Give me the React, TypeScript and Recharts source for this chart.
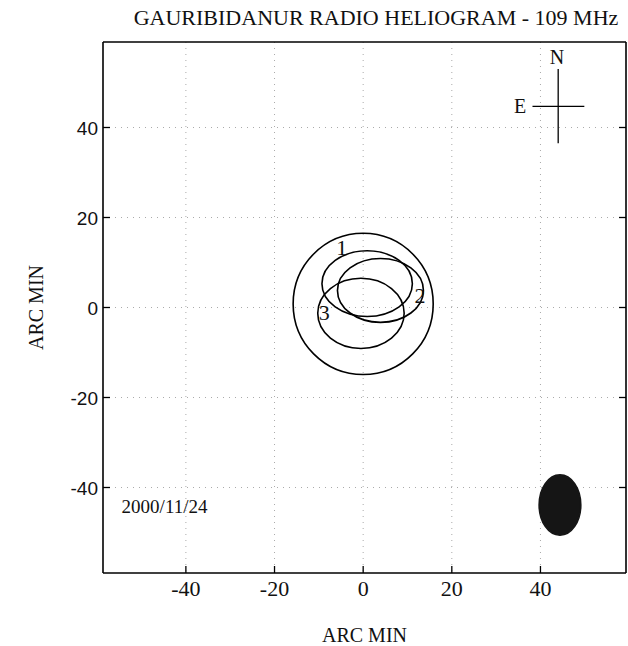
import React from "react";
import {
  ComposedChart,
  XAxis,
  YAxis,
  CartesianGrid,
  ReferenceArea,
  ReferenceLine,
  ReferenceDot,
  Scatter,
} from "recharts";

// radio contours, the optical disc and the beam, as ellipses (arc min)
const ovalNames = ["disc", "1", "2", "3", "beam"];
const ovalCx = [0, 0.9, 3.9, -0.5, 44.4];
const ovalCy = [0.8, 5.3, 3.8, -1.3, -43.9];
const ovalRx = [15.8, 10.2, 9.7, 9.75, 4.7];
const ovalRy = [15.7, 7.3, 7.1, 7.8, 6.7];

// contour numbers
const contourLabels = ["1", "2", "3"];
const contourLabelX = [-4.85, 12.8, -8.8];
const contourLabelY = [11.7, 0.9, -2.8];

const axisTicks = [-40, -20, 0, 20, 40];
const obsDate = "2000/11/24";

const SERIF = "'Liberation Serif', 'Times New Roman', serif";
const SANS = "'Liberation Sans', Arial, sans-serif";
const TICK_GAP = 5;
const TICK_LEN = 7;

const ovals = ovalNames.map((name, i) => ({
  name,
  x: ovalCx[i],
  y: ovalCy[i],
  rx: ovalRx[i],
  ry: ovalRy[i],
}));

const BottomTick = (p: any) => (
  <g>
    <line x1={p.x} x2={p.x} y1={p.y - TICK_GAP} y2={p.y - TICK_GAP - TICK_LEN} stroke="#000" strokeWidth={1.3} />
    <text x={p.x} y={p.y + 18} textAnchor="middle" fontFamily={SERIF} fontSize={22} fill="#111">
      {p.payload.value}
    </text>
  </g>
);

const TopTick = (p: any) => (
  <line x1={p.x} x2={p.x} y1={p.y + TICK_GAP} y2={p.y + TICK_GAP + TICK_LEN} stroke="#000" strokeWidth={1.3} />
);

const LeftTick = (p: any) => (
  <g>
    <line x1={p.x + TICK_GAP} x2={p.x + TICK_GAP + TICK_LEN} y1={p.y} y2={p.y} stroke="#000" strokeWidth={1.3} />
    <text x={p.x} y={p.y + 7} textAnchor="end" fontFamily={SANS} fontSize={19} fill="#111">
      {p.payload.value}
    </text>
  </g>
);

const RightTick = (p: any) => (
  <line x1={p.x - TICK_GAP} x2={p.x - TICK_GAP - TICK_LEN} y1={p.y} y2={p.y} stroke="#000" strokeWidth={1.3} />
);

const ovalShape = (filled: boolean) => (p: any) => (
  <ellipse
    cx={p.x + p.width / 2}
    cy={p.y + p.height / 2}
    rx={p.width / 2}
    ry={Math.abs(p.height) / 2}
    fill={filled ? "#151515" : "none"}
    stroke={filled ? "#151515" : "#000"}
    strokeWidth={1.6}
  />
);

const textShape = (value: string, size: number, anchor: string = "middle") => (p: any) => (
  <text x={p.cx} y={p.cy} textAnchor={anchor} fontFamily={SERIF} fontSize={size} fill="#111">
    {value}
  </text>
);

export default function App() {
  return (
    <div style={{ position: "absolute", left: 0, top: 0, width: 628, height: 646, background: "#fff" }}>
      <div
        style={{
          position: "absolute",
          left: 0,
          top: 5,
          width: 752,
          textAlign: "center",
          fontFamily: SERIF,
          fontSize: 22,
          color: "#111",
        }}
      >
        GAURIBIDANUR RADIO HELIOGRAM - 109 MHz
      </div>
      <ComposedChart width={628} height={646} margin={{ top: 41, right: 0, bottom: 0, left: 0 }}>
        <CartesianGrid
          xAxisId="b"
          yAxisId="l"
          horizontalValues={axisTicks}
          verticalValues={axisTicks}
          stroke="#aaa"
          strokeDasharray="1 5"
        />
        <XAxis
          xAxisId="b"
          type="number"
          dataKey="x"
          domain={[-58.7, 59.3]}
          allowDataOverflow
          ticks={axisTicks}
          tickSize={0}
          tickMargin={TICK_GAP}
          tick={<BottomTick />}
          height={73}
          axisLine={{ stroke: "#000", strokeWidth: 1.6 }}
          label={{ value: "ARC MIN", position: "insideBottom", offset: 4, fontFamily: SERIF, fontSize: 20, fill: "#111" }}
        />
        <XAxis
          xAxisId="t"
          orientation="top"
          type="number"
          domain={[-58.7, 59.3]}
          allowDataOverflow
          ticks={axisTicks}
          tickSize={0}
          tickMargin={TICK_GAP}
          tick={<TopTick />}
          height={1}
          axisLine={{ stroke: "#000", strokeWidth: 1.6 }}
        />
        <YAxis
          yAxisId="l"
          type="number"
          dataKey="y"
          domain={[-59, 59]}
          allowDataOverflow
          ticks={axisTicks}
          tickSize={0}
          tickMargin={TICK_GAP}
          tick={<LeftTick />}
          width={103}
          axisLine={{ stroke: "#000", strokeWidth: 1.6 }}
          label={{
            value: "ARC MIN",
            angle: -90,
            position: "insideLeft",
            offset: 36,
            style: { textAnchor: "middle" },
            fontFamily: SERIF,
            fontSize: 20,
            fill: "#111",
          }}
        />
        <YAxis
          yAxisId="r"
          orientation="right"
          type="number"
          domain={[-59, 59]}
          allowDataOverflow
          ticks={axisTicks}
          tickSize={0}
          tickMargin={TICK_GAP}
          tick={<RightTick />}
          width={2}
          axisLine={{ stroke: "#000", strokeWidth: 1.6 }}
        />

        {ovals.map((o) => (
          <ReferenceArea
            key={o.name}
            xAxisId="b"
            yAxisId="l"
            x1={o.x - o.rx}
            x2={o.x + o.rx}
            y1={o.y - o.ry}
            y2={o.y + o.ry}
            ifOverflow="visible"
            shape={ovalShape(o.name === "beam")}
          />
        ))}

        {contourLabels.map((t, i) => (
          <ReferenceDot
            key={t}
            xAxisId="b"
            yAxisId="l"
            x={contourLabelX[i]}
            y={contourLabelY[i]}
            r={0}
            ifOverflow="visible"
            shape={textShape(t, 22)}
          />
        ))}

        {/* orientation cross */}
        <ReferenceLine xAxisId="b" yAxisId="l" segment={[{ x: 38.2, y: 44.7 }, { x: 49.9, y: 44.7 }]} stroke="#000" strokeWidth={1.3} />
        <ReferenceLine xAxisId="b" yAxisId="l" segment={[{ x: 44, y: 53 }, { x: 44, y: 36.5 }]} stroke="#000" strokeWidth={1.3} />
        <ReferenceDot xAxisId="b" yAxisId="l" x={43.7} y={54.2} r={0} shape={textShape("N", 20)} />
        <ReferenceDot xAxisId="b" yAxisId="l" x={35.4} y={43.2} r={0} shape={textShape("E", 20)} />

        <ReferenceDot xAxisId="b" yAxisId="l" x={-54.5} y={-45.6} r={0} shape={textShape(obsDate, 19, "start")} />

        <Scatter
          xAxisId="b"
          yAxisId="l"
          data={ovals}
          dataKey="y"
          shape={() => <g />}
          isAnimationActive={false}
        />
      </ComposedChart>
    </div>
  );
}
